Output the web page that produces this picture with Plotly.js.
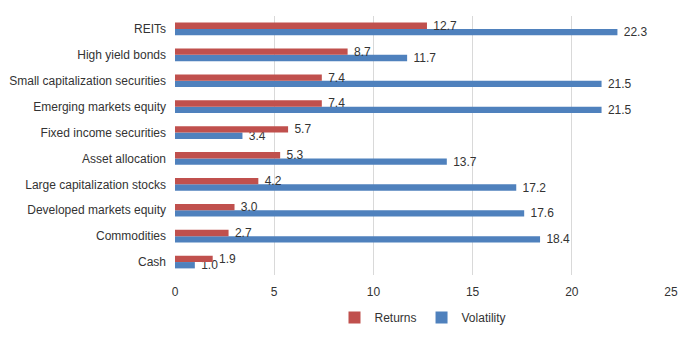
<!DOCTYPE html>
<html>
<head>
<meta charset="utf-8">
<script src="https://cdn.plot.ly/plotly-3.0.1.min.js"></script>
<style>html,body{margin:0;padding:0;background:#fff;}#chart{width:693px;height:337px;}</style>
</head>
<body>
<div id="chart"></div>
<script>
// Categories listed bottom-to-top
var categories = ["Cash", "Commodities", "Developed markets equity", "Large capitalization stocks",
  "Asset allocation", "Fixed income securities", "Emerging markets equity",
  "Small capitalization securities", "High yield bonds", "REITs"];
var returnsValues = [1.9, 2.7, 3.0, 4.2, 5.3, 5.7, 7.4, 7.4, 8.7, 12.7];
var volatilityValues = [1.0, 18.4, 17.6, 17.2, 13.7, 3.4, 21.5, 21.5, 11.7, 22.3];
var xTicks = [0, 5, 10, 15, 20, 25];

var font = {family: "Liberation Sans, Arial, sans-serif", size: 12, color: "#333333"};

function labels(arr) { return arr.map(function(v){ return "\u00a0" + v.toFixed(1); }); }

var volTrace = {
  type: "bar", orientation: "h", name: "Volatility",
  y: categories, x: volatilityValues,
  marker: {color: "#4F81BD"},
  text: labels(volatilityValues),
  textposition: "outside", constraintext: "none", cliponaxis: false,
  textfont: font, hoverinfo: "x+name"
};
var retTrace = {
  type: "bar", orientation: "h", name: "Returns",
  y: categories, x: returnsValues,
  marker: {color: "#C0504D"},
  text: labels(returnsValues),
  textposition: "outside", constraintext: "none", cliponaxis: false,
  textfont: font, hoverinfo: "x+name"
};

var layout = {
  width: 693, height: 337,
  margin: {l: 174.5, r: 21.5, t: 15.7, b: 62, autoexpand: false},
  paper_bgcolor: "#ffffff", plot_bgcolor: "#ffffff",
  barmode: "group", bargap: 0.51, bargroupgap: 0,
  font: font,
  showlegend: true,
  legend: {orientation: "h", x: 0.5, xanchor: "center", yref: "container", y: 0.058, yanchor: "middle",
    traceorder: "reversed", font: font, itemwidth: 30},
  xaxis: {range: [0, 25], tickvals: xTicks, ticktext: xTicks.map(String),
    showgrid: true, gridcolor: "#D9D9D9", gridwidth: 1, zeroline: false,
    showline: false, ticks: "", ticklabelstandoff: 8, tickfont: font, fixedrange: true,
    automargin: false},
  yaxis: {type: "category", showgrid: false, zeroline: false, showline: false,
    ticks: "", ticklabelstandoff: 8, tickfont: font, automargin: false, fixedrange: true}
};

Plotly.newPlot("chart", [volTrace, retTrace], layout, {displayModeBar: false, staticPlot: true});
</script>
</body>
</html>
